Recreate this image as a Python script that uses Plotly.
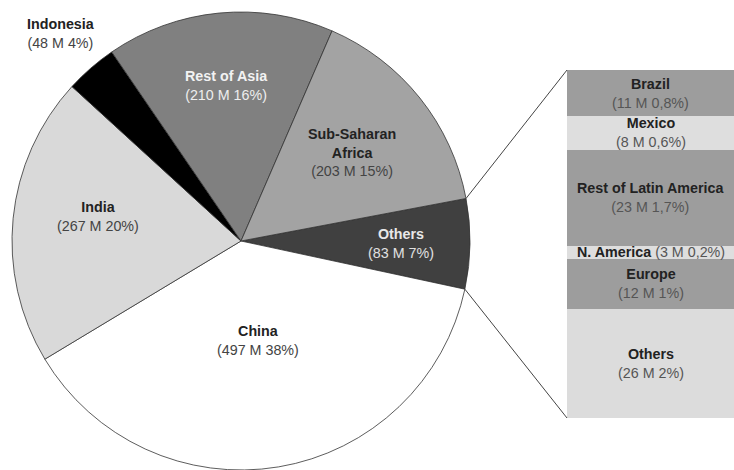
import math
import plotly.graph_objects as go

# ---- data ----
pie_labels = ["Others", "China", "India", "Indonesia", "Rest of Asia", "Sub-Saharan<br>Africa"]
pie_values = [83, 497, 267, 48, 210, 203]
pie_texts = ["(83 M 7%)", "(497 M 38%)", "(267 M 20%)", "(48 M 4%)", "(210 M 16%)", "(203 M 15%)"]

bar_labels = ["Brazil", "Mexico", "Rest of Latin America", "N. America", "Europe", "Others"]
bar_values = [11, 8, 23, 3, 12, 26]
bar_texts = ["(11 M 0,8%)", "(8 M 0,6%)", "(23 M 1,7%)", "(3 M 0,2%)", "(12 M 1%)", "(26 M 2%)"]

# ---- styles ----
W, H = 734, 470
MT = 12
PH = H - MT
pie_colors = ["#404040", "#ffffff", "#d9d9d9", "#000000", "#808080", "#a3a3a3"]
pie_label_colors = ["#e8e8e8", "#222222", "#222222", "#222222", "#f2f2f2", "#222222"]
pie_sub_colors = ["#e0e0e0", "#444444", "#444444", "#444444", "#eeeeee", "#444444"]
label_radius = [0.70, 0.44, 0.635, 1.2, 0.68, 0.62]
label_dtheta = [0, 0, -4, 0, 0, 0]
bar_colors = ["#9d9d9d", "#dedede", "#9d9d9d", "#dedede", "#9d9d9d", "#dcdcdc"]
FS = 14.3

start_angle = 10.7  # degrees, ccw from east, start of first slice
R = 229
cx_px = 241
cy_px = MT + R

pie_dom_x = [(cx_px - R) / W, (cx_px + R) / W]
bar_dom_x = [567 / W, 1.0]
bar_dom_y = [(PH - (418 - MT)) / PH, (PH - (70 - MT)) / PH]

FONT = "Liberation Sans, Arial, sans-serif"

fig = go.Figure()
fig.add_trace(go.Pie(
    labels=pie_labels, values=pie_values, sort=False, direction="clockwise",
    rotation=90 - start_angle, textinfo="none", hoverinfo="label+value",
    marker=dict(colors=pie_colors, line=dict(color="#333333", width=0.8)),
    domain=dict(x=pie_dom_x, y=[0, 1]), showlegend=False,
))

# stacked bar, bottom to top
for lab, val, col in reversed(list(zip(bar_labels, bar_values, bar_colors))):
    fig.add_trace(go.Bar(
        x=["b"], y=[val], marker=dict(color=col, line=dict(width=0)),
        xaxis="x", yaxis="y", showlegend=False, name=lab,
    ))

total = sum(pie_values)
annotations = []
ang = start_angle
pie_angles = [ang]
for i, v in enumerate(pie_values):
    span = v / total * 360
    mid = ang - span / 2 + label_dtheta[i]
    ang -= span
    pie_angles.append(ang)
    r = label_radius[i] * R
    px = cx_px + r * math.cos(math.radians(mid))
    py = cy_px - r * math.sin(math.radians(mid))
    txt = (f"<b><span style='color:{pie_label_colors[i]}'>{pie_labels[i]}</span></b><br>"
           f"<span style='color:{pie_sub_colors[i]}'>{pie_texts[i]}</span>")
    annotations.append(dict(
        x=px / W, y=(PH - (py - MT)) / PH, xref="paper", yref="paper",
        text=txt, showarrow=False, align="center",
        font=dict(family=FONT, size=FS), xanchor="center", yanchor="middle",
    ))

# bar labels
bar_total = sum(bar_values)
cum = 0
for lab, val, txt in zip(bar_labels, bar_values, bar_texts):
    mid = bar_total - (cum + val / 2)
    cum += val
    if val < 5:
        t = f"<b>{lab}</b> <span style='color:#555555'>{txt}</span>"
    else:
        t = f"<b>{lab}</b><br><span style='color:#555555'>{txt}</span>"
    annotations.append(dict(
        x=0, y=mid, xref="x", yref="y", text=t, showarrow=False,
        font=dict(family=FONT, size=FS, color="#222222"),
        xanchor="center", yanchor="middle",
    ))

# connecting lines from the "Others" slice edges to the bar corners
shapes = []
a_top, a_bot = pie_angles[0], pie_angles[1]
for a, by in [(a_top, bar_dom_y[1]), (a_bot, bar_dom_y[0])]:
    px = cx_px + R * math.cos(math.radians(a))
    py = cy_px - R * math.sin(math.radians(a))
    shapes.append(dict(
        type="line", xref="paper", yref="paper",
        x0=px / W, y0=(PH - (py - MT)) / PH, x1=bar_dom_x[0], y1=by,
        line=dict(color="#444444", width=1),
    ))

fig.update_layout(
    width=W, height=H, margin=dict(l=0, r=0, t=MT, b=0),
    paper_bgcolor="white", plot_bgcolor="white",
    barmode="stack", bargap=0,
    xaxis=dict(domain=bar_dom_x, visible=False, range=[-0.5, 0.5]),
    yaxis=dict(domain=bar_dom_y, visible=False, range=[0, bar_total]),
    annotations=annotations, shapes=shapes,
    font=dict(family=FONT),
)

fig.write_html("out.html", config={"displayModeBar": False},
               post_script="document.body.style.margin='0px';")
